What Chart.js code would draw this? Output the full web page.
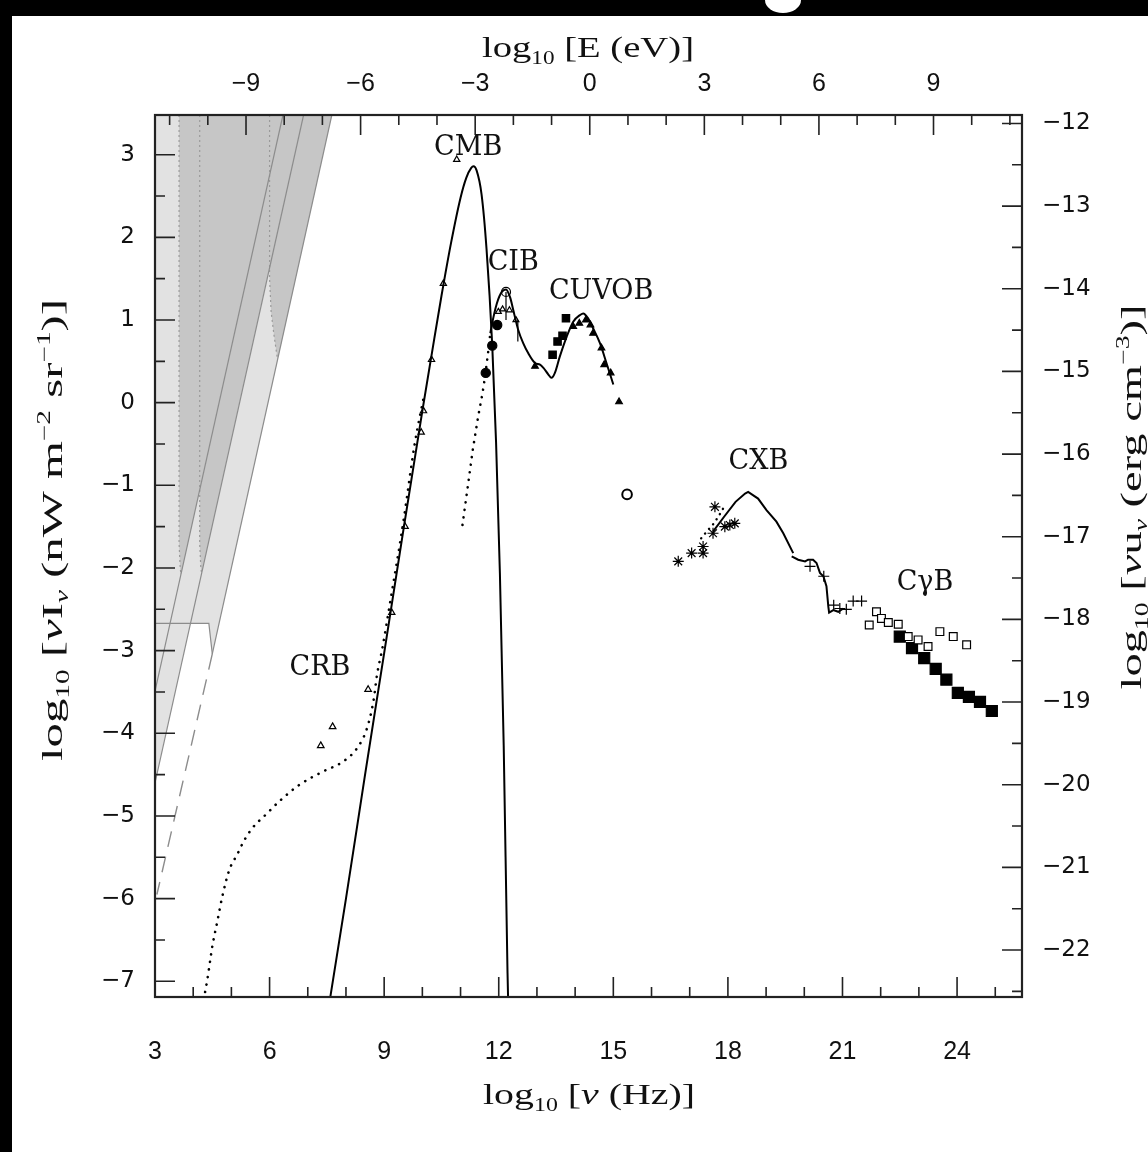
<!DOCTYPE html>
<html><head><meta charset="utf-8">
<script src="https://cdn.jsdelivr.net/npm/chart.js@4.4.1/dist/chart.umd.min.js"></script>
<style>html,body{margin:0;padding:0;background:#fff;overflow:hidden;width:1148px;height:1152px;}canvas{display:block;}</style>
</head><body>
<canvas id="c" width="1148" height="1152"></canvas>
<script>
// ---------- axis ranges & ticks ----------
const X_MIN = 3, X_MAX = 25.7, Y_MIN = -7.19, Y_MAX = 3.48;
const LOG_NU_TO_E = 14.383;      // log10(E/eV) = log10(nu/Hz) - 14.383
const I_TO_U = 15.378;           // log10(nu u_nu) = log10(nu I_nu) - 15.378
const NU_TICKS = [3, 6, 9, 12, 15, 18, 21, 24];
const E_TICKS = [-9, -6, -3, 0, 3, 6, 9];
const I_TICKS = [3, 2, 1, 0, -1, -2, -3, -4, -5, -6, -7];
const U_TICKS = [-12, -13, -14, -15, -16, -17, -18, -19, -20, -21, -22];

// ---------- CMB black-body curve ----------
const cmbX = [7.5, 8.0, 8.5, 9.0, 9.5, 10.0, 10.25, 10.5, 10.75, 11.0, 11.15, 11.28, 11.34, 11.42, 11.55, 11.68, 11.83, 11.93, 12.03, 12.13, 12.23, 12.27];
const cmbY = [-7.45, -6.0, -4.5, -3.03, -1.55, -0.1, 0.6, 1.29, 1.93, 2.48, 2.72, 2.84, 2.86, 2.81, 2.52, 1.86, 0.69, -0.48, -2.06, -4.15, -6.9, -7.7];
const cmbPtsX = [10.9, 10.55, 10.24, 10.03, 9.97, 9.55, 9.2];
const cmbPtsY = [2.94, 1.44, 0.52, -0.1, -0.36, -1.5, -2.54];

// ---------- radio background ----------
const crbPtsX = [7.34, 7.65, 8.58];
const crbPtsY = [-4.15, -3.92, -3.47];
const modelDotX = [4.2, 4.37, 4.5, 4.63, 4.76, 4.94, 5.16, 5.33, 5.56, 5.91, 6.26, 6.79, 7.41, 7.93, 8.29, 8.55, 8.73, 8.81, 8.95, 9.17, 9.5, 9.8, 10.05];
const modelDotY = [-7.4, -6.98, -6.58, -6.28, -5.98, -5.66, -5.46, -5.3, -5.14, -4.98, -4.82, -4.62, -4.46, -4.34, -4.18, -3.94, -3.58, -3.3, -2.98, -2.38, -1.45, -0.5, 0.1];

// ---------- infrared / optical ----------
const cibTailX = [11.05, 11.2, 11.32, 11.46, 11.57, 11.64, 11.72, 11.78];
const cibTailY = [-1.48, -0.98, -0.57, -0.17, 0.1, 0.31, 0.6, 0.84];
const ebX = [11.78, 11.81, 11.95, 12.08, 12.19, 12.3, 12.38, 12.51, 12.64, 12.77, 12.95, 13.08, 13.17, 13.3, 13.38, 13.47, 13.6, 13.78, 13.95, 14.13, 14.21, 14.34, 14.47, 14.65, 14.82, 15.0];
const ebY = [0.84, 0.92, 1.2, 1.34, 1.37, 1.27, 1.12, 0.88, 0.72, 0.6, 0.48, 0.46, 0.42, 0.34, 0.3, 0.36, 0.56, 0.8, 0.98, 1.06, 1.08, 1.02, 0.9, 0.72, 0.48, 0.22];
const cibCircX = [12.19], cibCircY = [1.34];
const cibOpenTriX = [11.99, 12.1, 12.28, 12.45];
const cibOpenTriY = [1.1, 1.13, 1.12, 1.0];
const cibDotX = [11.96, 11.83, 11.66];
const cibDotY = [0.94, 0.69, 0.36];
const cuvobSqX = [13.76, 13.67, 13.54, 13.41];
const cuvobSqY = [1.02, 0.81, 0.74, 0.58];
const cuvobTriX = [12.95, 13.95, 14.11, 14.28, 14.4, 14.47, 14.69, 14.76, 14.93, 15.15];
const cuvobTriY = [0.44, 0.92, 0.96, 1.0, 0.94, 0.84, 0.66, 0.46, 0.36, 0.01];
const uvCircX = [15.36], uvCircY = [-1.11];
const errX = [12.19, 12.19, null, 12.5, 12.5];
const errY = [1.34, 1.0, null, 1.0, 0.74];

// ---------- X-ray / gamma ----------
const cxbX = [17.61, 17.9, 18.2, 18.45, 18.53, 18.79, 19.01, 19.27, 19.45, 19.71, null, 19.67, 19.84, 20.02, 20.1, 20.23, 20.32, 20.41, 20.5, 20.58, 20.63, 20.65, 20.76, 20.89, 21.02];
const cxbY = [-1.56, -1.38, -1.2, -1.1, -1.08, -1.16, -1.3, -1.44, -1.58, -1.82, null, -1.86, -1.9, -1.92, -1.9, -1.9, -1.94, -2.06, -2.1, -2.22, -2.47, -2.54, -2.51, -2.53, -2.49];
const cxbDotX = [17.3, 17.48, 17.6, 17.75, 17.9];
const cxbDotY = [-1.64, -1.54, -1.48, -1.38, -1.26];
const starX = [16.7, 17.05, 17.35, 17.35, 17.61, 17.66, 17.92, 18.05, 18.18];
const starY = [-1.92, -1.82, -1.74, -1.82, -1.58, -1.26, -1.5, -1.48, -1.46];
const plusX = [20.15, 20.51, 20.77, 20.93, 21.1, 21.28, 21.5];
const plusY = [-1.98, -2.1, -2.45, -2.49, -2.5, -2.4, -2.4];
const openSqX = [21.7, 21.89, 22.02, 22.2, 22.46, 22.72, 22.98, 23.24, 23.55, 23.9, 24.25];
const openSqY = [-2.69, -2.53, -2.61, -2.66, -2.68, -2.83, -2.87, -2.95, -2.77, -2.83, -2.93];
const fillSqX = [22.5, 22.82, 23.14, 23.44, 23.72, 24.02, 24.31, 24.6, 24.91];
const fillSqY = [-2.83, -2.97, -3.09, -3.22, -3.35, -3.51, -3.56, -3.62, -3.73];

// ---------- shaded constraint regions (upper left) ----------
const lightX = [3, 7.63, 4.5, 4.41, 3.93, 3, 3];
const lightY = [3.48, 3.48, -3.04, -2.67, -2.67, -4.6, 3.48];
const darkX = [3.63, 7.63, 6.21, 6.12, 6.04, 6.0, 6.0, 4.22, 4.2, 4.17, 4.17, 3.68, 3.66, 3.63, 3.63];
const darkY = [3.48, 3.48, 0.52, 0.8, 1.1, 1.5, 1.64, -2.06, -2.0, -1.7, -1.06, -2.08, -2.0, -1.7, 3.48];
const lineAX = [3, 6.35], lineAY = [-3.49, 3.48];
const lineBX = [3, 6.89], lineBY = [-4.6, 3.48];
const lineCX = [4.5, 7.63], lineCY = [-3.04, 3.48];
const shelfX = [3, 4.41, 4.5], shelfY = [-2.67, -2.67, -3.04];
const dashCX = [4.5, 3.05], dashCY = [-3.04, -5.95];
const vdot1X = [3.63, 3.63, 3.66, 3.68], vdot1Y = [3.48, -1.7, -2.0, -2.08];
const vdot2X = [4.17, 4.17, 4.2, 4.22], vdot2Y = [3.48, -1.7, -2.0, -2.06];
const vdot3X = [6.0, 6.0, 6.04, 6.12, 6.21], vdot3Y = [3.48, 1.5, 1.1, 0.8, 0.52];

const pts = (xs, ys) => xs.map((x, i) => ({x: x, y: ys[i]}));

function lineSet(xs, ys, color, width, dash, order, extra) {
  return Object.assign({type: 'line', data: pts(xs, ys), borderColor: color, borderWidth: width,
    borderDash: dash || [], pointRadius: 0, fill: false, order: order || 0, spanGaps: false}, extra || {});
}
function markSet(xs, ys, style, r, filled, extra) {
  return Object.assign({type: 'scatter', data: pts(xs, ys), pointStyle: style, pointRadius: r,
    borderColor: '#000', borderWidth: 1.2, backgroundColor: filled ? '#000' : 'rgba(0,0,0,0)', order: 0}, extra || {});
}

const datasets = [
  Object.assign(lineSet(lightX, lightY, 'rgba(0,0,0,0)', 0, null, 30), {fill: 'shape', backgroundColor: '#e2e2e2'}),
  Object.assign(lineSet(darkX, darkY, 'rgba(0,0,0,0)', 0, null, 29), {fill: 'shape', backgroundColor: '#c6c6c6'}),
  lineSet(lineAX, lineAY, '#8c8c8c', 1.2, null, 28),
  lineSet(lineBX, lineBY, '#8c8c8c', 1.2, null, 28),
  lineSet(lineCX, lineCY, '#8c8c8c', 1.2, null, 28),
  lineSet(shelfX, shelfY, '#8c8c8c', 1.2, null, 28),
  lineSet(dashCX, dashCY, '#8c8c8c', 1.4, [16, 10], 28),
  lineSet(vdot1X, vdot1Y, '#9a9a9a', 1.2, [2, 3], 28),
  lineSet(vdot2X, vdot2Y, '#9a9a9a', 1.2, [2, 3], 28),
  lineSet(vdot3X, vdot3Y, '#9a9a9a', 1.2, [2, 3], 28),
  lineSet(cmbX, cmbY, '#000', 2, null, 5, {cubicInterpolationMode: 'monotone'}),
  lineSet(modelDotX, modelDotY, '#000', 2.6, [0.1, 7.5], 6, {borderCapStyle: 'round', cubicInterpolationMode: 'monotone'}),
  lineSet(cibTailX, cibTailY, '#000', 2.6, [0.1, 7.5], 6, {borderCapStyle: 'round'}),
  lineSet(ebX, ebY, '#000', 2, null, 5, {cubicInterpolationMode: 'monotone'}),
  lineSet(cxbX, cxbY, '#000', 2, null, 5),
  lineSet(cxbDotX, cxbDotY, '#000', 2.4, [0.1, 6], 6, {borderCapStyle: 'round'}),
  lineSet(errX, errY, '#000', 1.2, null, 4),
  markSet(cmbPtsX, cmbPtsY, 'triangle', 3.6, false),
  markSet(crbPtsX, crbPtsY, 'triangle', 3.8, false),
  markSet(cibCircX, cibCircY, 'circle', 4.5, false),
  markSet(cibOpenTriX, cibOpenTriY, 'triangle', 3.4, false),
  markSet(cibDotX, cibDotY, 'circle', 4.6, true),
  markSet(cuvobSqX, cuvobSqY, 'rect', 5.2, true),
  markSet(cuvobTriX, cuvobTriY, 'triangle', 3.8, true),
  markSet(uvCircX, uvCircY, 'circle', 4.8, false, {borderWidth: 2}),
  markSet(starX, starY, 'star', 5.5, false),
  markSet(plusX, plusY, 'cross', 5.5, false),
  markSet(openSqX, openSqY, 'rect', 5.5, false, {backgroundColor: '#fff'}),
  markSet(fillSqX, fillSqY, 'rect', 7.8, true)
];

// ---------- helper for rich text ----------
function richWidth(ctx, parts, fam) {
  let w = 0;
  for (const p of parts) { ctx.font = (p.style || '') + ' ' + p.size + 'px ' + fam; w += ctx.measureText(p.t).width; }
  return w;
}
function drawRich(ctx, parts, fam, cx, baseY, angle, targetW) {
  ctx.save();
  ctx.translate(cx, baseY);
  ctx.rotate(angle);
  const w = richWidth(ctx, parts, fam);
  const sx = targetW ? targetW / w : 1;
  ctx.scale(sx, 1);
  let x = -w / 2;
  ctx.fillStyle = '#111';
  ctx.textBaseline = 'alphabetic';
  ctx.textAlign = 'left';
  for (const p of parts) {
    ctx.font = (p.style || '') + ' ' + p.size + 'px ' + fam;
    ctx.fillText(p.t, x, p.dy || 0);
    x += ctx.measureText(p.t).width;
  }
  ctx.restore();
}

const SERIF = "'Liberation Serif', 'DejaVu Serif', serif";
const TITLE = 30, SUB = 18;
const topTitle = [{t: 'log', size: TITLE}, {t: '10', size: SUB, dy: 7}, {t: ' [E (eV)]', size: TITLE}];
const botTitle = [{t: 'log', size: TITLE}, {t: '10', size: SUB, dy: 7}, {t: ' [', size: TITLE}, {t: 'ν', size: TITLE, style: 'italic'}, {t: ' (Hz)]', size: TITLE}];
const leftTitle = [{t: 'log', size: TITLE}, {t: '10', size: SUB, dy: 7}, {t: ' [', size: TITLE}, {t: 'ν', size: TITLE, style: 'italic'}, {t: 'I', size: TITLE}, {t: 'ν', size: SUB, dy: 6, style: 'italic'}, {t: ' (nW m', size: TITLE}, {t: '−2', size: SUB, dy: -12}, {t: ' sr', size: TITLE}, {t: '−1', size: SUB, dy: -12}, {t: ')]', size: TITLE}];
const rightTitle = [{t: 'log', size: TITLE}, {t: '10', size: SUB, dy: 7}, {t: ' [', size: TITLE}, {t: 'ν', size: TITLE, style: 'italic'}, {t: 'u', size: TITLE}, {t: 'ν', size: SUB, dy: 6, style: 'italic'}, {t: ' (erg cm', size: TITLE}, {t: '−3', size: SUB, dy: -12}, {t: ')]', size: TITLE}];

const LABELS = [
  {t: 'CMB', x: 11.2, y: 3.08}, {t: 'CIB', x: 12.38, y: 1.69}, {t: 'CUVOB', x: 14.68, y: 1.34},
  {t: 'CXB', x: 18.8, y: -0.72}, {t: 'CγB', x: 23.16, y: -2.18}, {t: 'CRB', x: 7.32, y: -3.21}
];

const decor = {
  id: 'decor',
  afterDatasetsDraw(chart) {
    const ctx = chart.ctx, ca = chart.chartArea;
    const sx = chart.scales.x, sy = chart.scales.y, st = chart.scales.xTop, sr = chart.scales.yRight;
    ctx.save();
    ctx.strokeStyle = '#222';
    ctx.lineWidth = 1.6;
    ctx.beginPath();
    for (let v = Math.ceil(X_MIN); v <= X_MAX; v++) {
      const p = sx.getPixelForValue(v), L = NU_TICKS.includes(v) ? 20 : 10;
      ctx.moveTo(p, ca.bottom); ctx.lineTo(p, ca.bottom - L);
    }
    for (let v = Math.ceil(st.min); v <= st.max; v++) {
      const p = st.getPixelForValue(v), L = E_TICKS.includes(v) ? 20 : 10;
      ctx.moveTo(p, ca.top); ctx.lineTo(p, ca.top + L);
    }
    for (let v = Math.ceil(Y_MIN * 2) / 2; v <= Y_MAX; v += 0.5) {
      const p = sy.getPixelForValue(v), L = Number.isInteger(v) ? 20 : 10;
      ctx.moveTo(ca.left, p); ctx.lineTo(ca.left + L, p);
    }
    for (let v = Math.ceil(sr.min * 2) / 2; v <= sr.max; v += 0.5) {
      const p = sr.getPixelForValue(v), L = Number.isInteger(v) ? 20 : 10;
      ctx.moveTo(ca.right, p); ctx.lineTo(ca.right - L, p);
    }
    ctx.stroke();
    ctx.lineWidth = 2.2;
    ctx.strokeRect(ca.left, ca.top, ca.right - ca.left, ca.bottom - ca.top);

    // annotations
    ctx.fillStyle = '#111';
    ctx.font = "27px 'DejaVu Serif', serif";
    ctx.textAlign = 'center';
    ctx.textBaseline = 'middle';
    for (const l of LABELS) ctx.fillText(l.t, sx.getPixelForValue(l.x), sy.getPixelForValue(l.y));

    // axis titles
    drawRich(ctx, topTitle, SERIF, 588, 57, 0, 212);
    drawRich(ctx, botTitle, SERIF, 589, 1104, 0, 212);
    drawRich(ctx, leftTitle, SERIF, 62, 530, -Math.PI / 2, 462);
    drawRich(ctx, rightTitle, SERIF, 1141, 497, -Math.PI / 2, 385);

    // black frame of the photographed page
    ctx.fillStyle = '#000';
    ctx.fillRect(0, 0, 1148, 16);
    ctx.fillRect(0, 0, 12, 1152);
    ctx.fillStyle = '#fff';
    ctx.beginPath();
    ctx.ellipse(783, 0, 18, 13, 0, 0, Math.PI);
    ctx.fill();
    ctx.restore();
  }
};

const minus = v => (v < 0 ? '−' + Math.abs(v) : String(v));
const sideFont = {family: "'DejaVu Sans', sans-serif", size: 23};
const hFont = {family: "'Liberation Sans', sans-serif", size: 25};

new Chart(document.getElementById('c'), {
  data: {datasets: datasets},
  options: {
    responsive: false, animation: false, events: [],
    layout: {padding: 0},
    plugins: {legend: {display: false}, tooltip: {enabled: false}},
    scales: {
      x: {type: 'linear', position: 'bottom', min: X_MIN, max: X_MAX,
        afterBuildTicks: s => { s.ticks = NU_TICKS.map(v => ({value: v})); },
        afterFit: s => { s.height = 155; },
        grid: {display: false, drawTicks: false}, border: {display: false},
        ticks: {padding: 40, font: hFont, color: '#111', autoSkip: false, maxRotation: 0, callback: v => minus(v)}},
      xTop: {type: 'linear', position: 'top', min: X_MIN - LOG_NU_TO_E, max: X_MAX - LOG_NU_TO_E,
        afterBuildTicks: s => { s.ticks = E_TICKS.map(v => ({value: v})); },
        afterFit: s => { s.height = 115; },
        grid: {display: false, drawTicks: false}, border: {display: false},
        ticks: {padding: 16, font: hFont, color: '#111', autoSkip: false, maxRotation: 0, callback: v => minus(v)}},
      y: {type: 'linear', position: 'left', min: Y_MIN, max: Y_MAX,
        afterBuildTicks: s => { s.ticks = I_TICKS.map(v => ({value: v})); },
        afterFit: s => { s.width = 155; },
        grid: {display: false, drawTicks: false}, border: {display: false},
        ticks: {padding: 20, font: sideFont, color: '#111', autoSkip: false, callback: v => minus(v)}},
      yRight: {type: 'linear', position: 'right', min: Y_MIN - I_TO_U, max: Y_MAX - I_TO_U,
        afterBuildTicks: s => { s.ticks = U_TICKS.map(v => ({value: v})); },
        afterFit: s => { s.width = 126; },
        grid: {display: false, drawTicks: false}, border: {display: false},
        ticks: {padding: 20, font: sideFont, color: '#111', autoSkip: false, callback: v => minus(v)}}
    }
  },
  plugins: [decor]
});
</script>
</body></html>
